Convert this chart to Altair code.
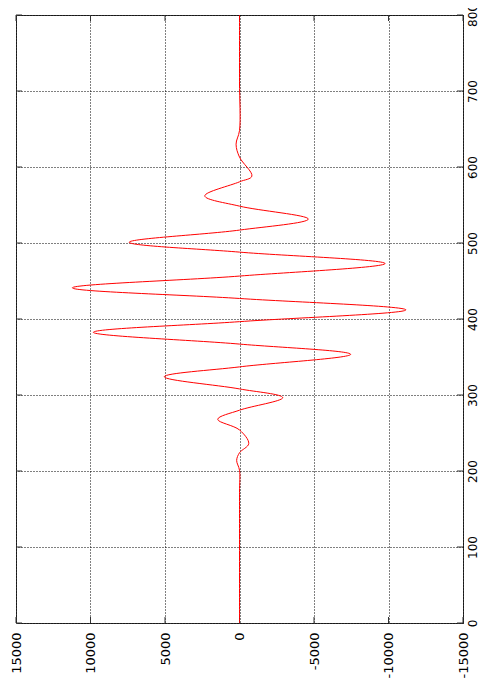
import altair as alt
import pandas as pd

# time (vertical axis, 0..800) and amplitude (horizontal axis, 15000..-15000)
t_vals = [0, 172, 201, 214, 224, 236, 254, 268, 280, 296.5, 308, 324, 337, 353.5,
          367, 382.5, 396.5, 412, 427, 441, 456.5, 473, 488, 501, 517, 531.5,
          548.5, 562, 580.5, 588, 613, 630, 648, 712, 800]
v_vals = [0, 0, 0, 190, 0, -620, 0, 1460, 0, -2900, 0, 5050, 0, -7460,
          0, 9810, 0, -11170, 0, 11220, 0, -9770, 0, 7400, 0, -4620,
          0, 2330, 0, -830, 0, 230, 0, 0, 0]

x_ticks = [15000, 10000, 5000, 0, -5000, -10000, -15000]
y_ticks = [0, 100, 200, 300, 400, 500, 600, 700, 800]

W, H = 447, 608
TICK = 6

df = pd.DataFrame({"t": t_vals, "v": v_vals})
xt = pd.DataFrame({"v": x_ticks})
yt = pd.DataFrame({"t": y_ticks})

xscale = alt.Scale(domain=[15000, -15000], nice=False, zero=False)
yscale = alt.Scale(domain=[0, 800], nice=False, zero=False)

label_expr = "datum.value < 0 ? '-' + format(-datum.value, 'd') : format(datum.value, 'd')"

x_axis = alt.Axis(
    orient="bottom", values=x_ticks, title=None, labelAngle=270,
    labelAlign="right", labelBaseline="middle", labelPadding=9,
    labelFont="DejaVu Sans", labelFontSize=13, labelColor="#000",
    labelExpr=label_expr,
    ticks=False, domain=False, grid=True, gridColor="#000",
    gridDash=[1, 2], gridOpacity=1, gridWidth=1, labelFlush=False,
    labelOverlap=False,
)
y_axis = alt.Axis(
    orient="right", values=y_ticks, title=None, labelAngle=270,
    labelAlign="center", labelBaseline="top", labelPadding=4,
    labelFont="DejaVu Sans", labelFontSize=12, labelColor="#000",
    labelExpr=label_expr,
    ticks=False, domain=False, grid=True, gridColor="#000",
    gridDash=[1, 2], gridOpacity=1, gridWidth=1, labelFlush=True,
    labelOverlap=False,
)

X = alt.X("v:Q", scale=xscale, axis=x_axis, title=None)
Y = alt.Y("t:Q", scale=yscale, axis=y_axis, title=None)

line = alt.Chart(df).mark_line(color="#ff0000", strokeWidth=1,
                               interpolate="catmull-rom").encode(
    x=X, y=Y, order="t:Q",
)

tick_style = dict(color="#333", strokeWidth=1)
bottom_ticks = alt.Chart(xt).mark_rule(**tick_style).encode(
    x=X, y=alt.value(H), y2=alt.value(H - TICK))
top_ticks = alt.Chart(xt).mark_rule(**tick_style).encode(
    x=X, y=alt.value(0), y2=alt.value(TICK))
left_ticks = alt.Chart(yt).mark_rule(**tick_style).encode(
    y=Y, x=alt.value(0), x2=alt.value(TICK))
right_ticks = alt.Chart(yt).mark_rule(**tick_style).encode(
    y=Y, x=alt.value(W), x2=alt.value(W - TICK))

chart = alt.layer(bottom_ticks, top_ticks, left_ticks, right_ticks, line).properties(
    width=W, height=H,
    autosize=alt.AutoSizeParams(type="none"),
    padding={"left": 8, "top": 7, "right": 18, "bottom": 58},
    background="white",
).configure_view(stroke="#333", strokeWidth=1)

chart.save("out.html", embed_options={"renderer": "svg", "actions": False})
